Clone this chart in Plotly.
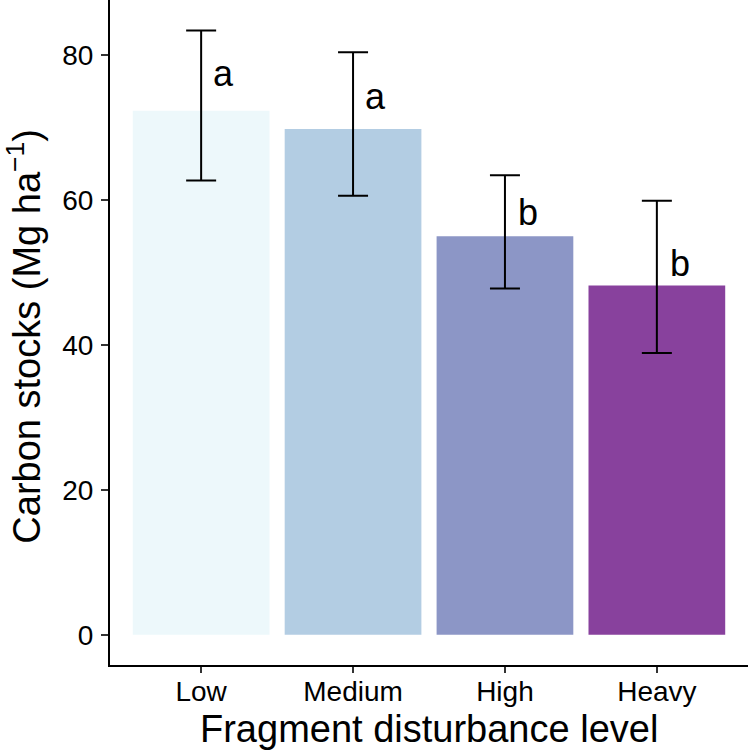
import plotly.graph_objects as go

# ---- data ----
categories = ["Low", "Medium", "High", "Heavy"]
carbon_mean = [72.3, 69.8, 55.0, 48.2]
err_upper = [83.4, 80.4, 63.4, 59.9]
err_lower = [62.7, 60.6, 47.8, 38.9]
letters = ["a", "a", "b", "b"]
letter_y = [77.4, 74.3, 58.3, 51.2]
bar_colors = ["#edf8fb", "#b3cde3", "#8c96c6", "#88419d"]

plus = [u - m for u, m in zip(err_upper, carbon_mean)]
minus = [m - l for m, l in zip(carbon_mean, err_lower)]

font_family = "Liberation Sans, Arial, sans-serif"

fig = go.Figure()
fig.add_trace(go.Bar(
    x=categories,
    y=carbon_mean,
    width=0.9,
    marker=dict(color=bar_colors, line=dict(width=0)),
    error_y=dict(type="data", array=plus, arrayminus=minus, symmetric=False,
                 color="black", thickness=2, width=15),
    showlegend=False,
))

for i, (lab, ly) in enumerate(zip(letters, letter_y)):
    fig.add_annotation(x=i + 0.15, y=ly, text=lab, showarrow=False,
                       xanchor="center", yanchor="middle",
                       font=dict(size=36, color="black", family=font_family))

# axis titles
fig.add_annotation(xref="paper", yref="paper", x=0.5, y=-0.096,
                   text="Fragment disturbance level", showarrow=False,
                   xanchor="center", yanchor="middle",
                   font=dict(size=38, color="black", family=font_family))
fig.add_annotation(xref="paper", yref="paper", x=-0.135, y=0.495,
                   text="Carbon stocks (Mg ha<sup>\u22121</sup>)", showarrow=False,
                   textangle=-90, xanchor="center", yanchor="middle",
                   font=dict(size=38, color="black", family=font_family))

fig.update_layout(
    width=750, height=751,
    margin=dict(l=110, r=2, t=0, b=86),
    plot_bgcolor="white", paper_bgcolor="white",
    font=dict(family=font_family, color="black"),
    bargap=0.1,
)
fig.update_xaxes(
    type="category", range=[-0.6, 3.6],
    showline=True, linecolor="black", linewidth=2,
    ticks="outside", ticklen=6, tickwidth=2, tickcolor="#333333",
    tickfont=dict(size=28, color="black"),
    ticklabelstandoff=-6,
    showgrid=False, zeroline=False,
)
fig.update_yaxes(
    range=[-4.17, 87.6],
    tickvals=[0, 20, 40, 60, 80],
    showline=True, linecolor="black", linewidth=2,
    ticks="outside", ticklen=7, tickwidth=2, tickcolor="#333333",
    tickfont=dict(size=28, color="black"),
    ticklabelstandoff=2,
    showgrid=False, zeroline=False,
)

fig.write_html("out.html",
               config={"displayModeBar": False},
               post_script="document.body.style.margin='0';document.body.style.overflow='hidden';")
